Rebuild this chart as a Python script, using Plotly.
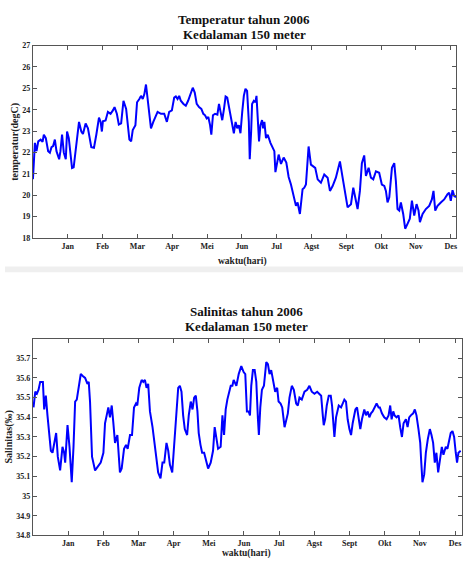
import plotly.graph_objects as go

# Daily temperature at 150 m depth, 2006 (day of year, deg C)
temp_day = [0, 1.7, 3.1, 4.6, 6.6, 8.3, 9.4, 11.1, 13.1, 14.6, 16, 17.4, 18.9, 20.3, 22.6, 23.7,
            25.1, 26.6, 28.3, 29.4, 30.9, 32.6, 33.7, 35.1, 36, 37.4, 39.7, 41.7, 43.1, 45.4, 47.4,
            50.3, 52.6, 54.6, 56.9, 58.3, 59.4, 60.3, 62.6, 64.6, 66.9, 68.9, 70.3, 72.3, 74, 76,
            78, 80.3, 81.7, 83.1, 84.6, 86, 88.3, 89.7, 91.7, 93.1, 94.6, 96, 97.4, 98.9, 100.3,
            101.7, 103.7, 106, 107.4, 110.3, 113.1, 115.4, 117.4, 119.7, 121.7, 123.1, 124.6, 126,
            127.4, 129.7, 131.7, 133.7, 136, 137.7, 139.4, 141.1, 143.1, 145.1, 146.8, 148.3, 149.7,
            151.1, 152.6, 153.7, 155.1, 156.9, 158.9, 160.3, 161.7, 163.1, 164.6, 166, 167.4, 168.9,
            170.3, 171.7, 173.1, 174.6, 176, 177.4, 178.8, 180.3, 181.7, 183.1, 184.5, 186, 186.8,
            188, 188.8, 190.3, 191.7, 192.6, 193.7, 194.8, 196, 197.4, 198.3, 199.4, 200.8, 202.3,
            204.6, 206.6, 208, 208.9, 210.3, 211.7, 213.7, 216, 218.3, 220.3, 222.3, 225.2, 226.6,
            228, 230, 232.3, 233.8, 235.2, 237.5, 239.5, 241, 243.2, 245.3, 248.1, 251, 253.9,
            255.9, 258.2, 261, 262.5, 264.5, 266.8, 268.8, 271.1, 274, 276, 277.7, 279.7, 281.7,
            283.4, 285.4, 286.9, 289.2, 291.2, 293.2, 295.5, 298.3, 300.6, 302.7, 304.1, 305.5,
            307, 309.3, 311.3, 312.7, 314.1, 315.6, 317, 319, 320.7, 322.7, 324.7, 326.5, 328.5,
            330.5, 332.2, 333.4, 335.7, 338.5, 341.4, 343.7, 345.1, 346.6, 348.6, 351.4, 354.3,
            357.2, 358.6, 360, 361.5, 362.9, 364.5]
temp_val = [20.75, 22.45, 22.06, 22.52, 22.6, 22.5, 22.83, 22.67, 22.06, 21.99, 22.25, 22.3, 22.6,
            22.06, 21.68, 22.06, 22.83, 21.99, 21.68, 22.98, 22.67, 21.6, 21.27, 21.3, 21.68, 22.37,
            23.43, 22.98, 22.86, 23.36, 23.13, 22.25, 22.22, 22.83, 23.63, 23.43, 22.98, 23.46, 23.5,
            23.9, 23.81, 23.97, 24.12, 23.81, 23.31, 23.36, 24.42, 24.04, 23.43, 22.6, 22.52, 23.05,
            23.28, 24.35, 24.5, 24.65, 24.5, 24.73, 25.18, 24.42, 23.74, 23.13, 23.43, 23.74, 23.9,
            23.81, 23.81, 23.43, 23.9, 23.97, 24.57, 24.62, 24.5, 24.65, 24.42, 24.27, 24.19, 24.42,
            24.8, 25.03, 24.8, 24.27, 24.12, 24.04, 23.81, 23.74, 23.59, 23.66, 23.28, 22.83, 23.74,
            23.81, 23.77, 24.27, 23.89, 23.51, 24.04, 24.62, 24.57, 24.12, 23.74, 23.36, 22.9, 23.43,
            23.13, 23.28, 22.9, 23.89, 24.65, 24.98, 24.88, 23.43, 21.68, 22.98, 24.27, 24.42, 24.35,
            24.65, 23.74, 22.52, 23.28, 23.51, 23.13, 23.43, 22.67, 22.83, 22.45, 22.22, 22.06, 21.08,
            21.61, 21.9, 21.46, 21.76, 21.53, 20.85, 20.5, 19.74, 19.5, 19.66, 19.12, 20.28, 20.35,
            20.5, 22.28, 21.43, 21.35, 21.28, 20.74, 20.58, 20.97, 20.82, 20.2, 20.43, 20.82, 21.12,
            21.58, 20.82, 20.12, 19.43, 19.58, 20.35, 19.89, 19.35, 20.2, 21.5, 21.86, 20.9, 21.28,
            20.82, 20.74, 21.12, 21.05, 20.5, 20.43, 20.2, 19.66, 19.9, 21.28, 21.5, 20.66, 19.35,
            19.28, 19.66, 19.12, 18.43, 18.66, 18.9, 19.74, 19.05, 19.58, 19.28, 18.74, 19.12, 19.35,
            19.5, 19.8, 20.2, 19.28, 19.5, 19.66, 19.8, 20.05, 20.12, 19.74, 20.23, 19.97, 19.9]

# Daily salinity at 150 m depth, 2006 (day of year, per mil)
sal_day = [0.5, 2, 3.4, 4.8, 6.2, 8.5, 9.6, 11, 12.4, 13.9, 15.3, 16.7, 18.1, 19.8, 21.2, 23.2, 25.2,
           26.6, 27.5, 29.5, 31.2, 33.1, 34.6, 36, 37.4, 38.8, 40.8, 42.5, 44.5, 46.5, 47.6, 48.7,
           49.6, 50.4, 53, 55.8, 57.8, 60.1, 61.5, 62.9, 64.3, 65.7, 67.2, 68.6, 70, 72, 73.1, 74.2,
           75.7, 77.7, 79.4, 80.8, 82.8, 84.5, 86.2, 87.9, 89, 90.7, 92.7, 94.1, 95.5, 96.9, 98.3,
           99.8, 102, 104, 105.4, 106.8, 108.8, 110.5, 112, 113.9, 115.4, 116.8, 118.8, 120.2,
           121.6, 122.4, 123.9, 125.3, 126.7, 128.1, 129.5, 131.5, 132.9, 134.6, 136.1, 137.5,
           138.9, 140.3, 141.4, 142.9, 144.3, 146, 147.4, 149.4, 151.6, 153.6, 155, 156.5, 157.9,
           160.1, 161.6, 163, 164.4, 165.8, 167.2, 168.7, 170.1, 171.2, 173.5, 175.5, 177.7, 179.7,
           181.1, 182.5, 184, 185.1, 186.2, 187.6, 189.1, 190.5, 191.9, 192.7, 193.9, 195.3, 197,
           199, 200.4, 201.8, 203.2, 204.7, 206.6, 208.3, 209.5, 211.2, 212.6, 214.6, 216, 217.4,
           218.8, 220.8, 222.5, 224.5, 225.9, 227.3, 229.3, 231.6, 233.9, 235.8, 237.8, 240.1,
           242.4, 244.3, 245.8, 247.2, 248, 249.2, 250.6, 252.3, 254, 255.1, 256.3, 257.1, 258.5,
           260.8, 262.8, 264.2, 265.6, 267, 268.4, 269.9, 271.3, 272.7, 275, 276.4, 277.8, 279.2,
           280.6, 282.6, 284, 285.5, 286.9, 288.3, 289.7, 291.1, 293.1, 294.8, 295.9, 297.6, 299.6,
           301.6, 303.3, 304.7, 305.9, 307.3, 308.4, 310.1, 311.8, 313.2, 314.7, 316.1, 318.1,
           319.5, 320.9, 322.3, 324.3, 325.7, 327.1, 328.8, 330.3, 331.1, 332.2, 333.7, 335.1,
           336.8, 338.5, 339.9, 341.3, 342.7, 344.1, 345.6, 347.3, 348.7, 350.1, 352.1, 353.5,
           354.9, 356.3, 357.8, 359.2, 360.6, 361.7, 362.9, 364.8]
sal_val = [35.45, 35.53, 35.52, 35.54, 35.58, 35.58, 35.44, 35.51, 35.41, 35.32, 35.23, 35.22, 35.27,
           35.32, 35.2, 35.13, 35.25, 35.22, 35.17, 35.36, 35.25, 35.07, 35.25, 35.48, 35.49, 35.54,
           35.62, 35.61, 35.6, 35.57, 35.58, 35.48, 35.33, 35.2, 35.13, 35.15, 35.17, 35.22, 35.37,
           35.41, 35.45, 35.4, 35.46, 35.37, 35.27, 35.31, 35.2, 35.12, 35.14, 35.24, 35.26, 35.24,
           35.31, 35.31, 35.45, 35.47, 35.46, 35.55, 35.59, 35.58, 35.59, 35.55, 35.57, 35.43, 35.35,
           35.25, 35.2, 35.12, 35.09, 35.17, 35.17, 35.27, 35.23, 35.16, 35.12, 35.25, 35.35, 35.45,
           35.55, 35.56, 35.53, 35.41, 35.34, 35.31, 35.41, 35.48, 35.44, 35.5, 35.51, 35.43, 35.32,
           35.26, 35.22, 35.22, 35.18, 35.14, 35.17, 35.23, 35.35, 35.3, 35.24, 35.25, 35.41, 35.31,
           35.44, 35.49, 35.52, 35.56, 35.56, 35.59, 35.56, 35.62, 35.66, 35.63, 35.62, 35.43, 35.43,
           35.41, 35.56, 35.64, 35.64, 35.58, 35.39, 35.31, 35.45, 35.54, 35.56, 35.68, 35.67, 35.62,
           35.64, 35.58, 35.53, 35.55, 35.48, 35.47, 35.45, 35.35, 35.38, 35.42, 35.5, 35.56, 35.54,
           35.47, 35.46, 35.5, 35.49, 35.53, 35.54, 35.56, 35.53, 35.52, 35.53, 35.52, 35.51, 35.41,
           35.36, 35.39, 35.46, 35.51, 35.51, 35.46, 35.33, 35.3, 35.4, 35.46, 35.45, 35.47, 35.49,
           35.48, 35.39, 35.34, 35.31, 35.37, 35.44, 35.45, 35.4, 35.34, 35.39, 35.44, 35.41, 35.43,
           35.4, 35.42, 35.43, 35.45, 35.47, 35.45, 35.45, 35.42, 35.4, 35.39, 35.41, 35.46, 35.39,
           35.43, 35.41, 35.4, 35.41, 35.35, 35.3, 35.37, 35.39, 35.35, 35.4, 35.41, 35.42, 35.44,
           35.41, 35.34, 35.27, 35.18, 35.07, 35.11, 35.22, 35.29, 35.34, 35.31, 35.27, 35.17, 35.22,
           35.12, 35.2, 35.25, 35.21, 35.25, 35.24, 35.29, 35.32, 35.33, 35.3, 35.22, 35.17, 35.22,
           35.23]

month_ticks = [30, 60, 90, 120, 150, 180, 210, 240, 270, 300, 330, 360]
month_labels = ["Jan", "Feb", "Mar", "Apr", "Mei", "Jun", "Jul", "Agst", "Sept", "Okt", "Nov", "Des"]

temp_ticks = [18, 19, 20, 21, 22, 23, 24, 25, 26, 27]
sal_ticks = [34.8, 34.9, 35.0, 35.1, 35.2, 35.3, 35.4, 35.5, 35.6, 35.7]
sal_tick_text = ["34.8", "34.9", "35", "35.1", "35.2", "35.3", "35.4", "35.5", "35.6", "35.7"]

W, H = 464, 565
SERIF = "Liberation Serif"
LINE = dict(color="#0000ff", width=2)


def px(y):
    """Convert a pixel row (from top) into paper coordinates."""
    return 1 - y / H


fig = go.Figure()
fig.add_trace(go.Scatter(x=temp_day, y=temp_val, mode="lines", line=LINE,
                         xaxis="x", yaxis="y", showlegend=False))
fig.add_trace(go.Scatter(x=sal_day, y=sal_val, mode="lines", line=LINE,
                         xaxis="x2", yaxis="y2", showlegend=False))

tick_font = dict(family=SERIF, size=8, color="#222", weight="bold")
common_axis = dict(showline=True, linecolor="#555", linewidth=1, mirror="ticks",
                   ticks="inside", ticklen=4, tickcolor="#555", showgrid=False,
                   zeroline=False, tickfont=tick_font)

fig.update_layout(
    width=W, height=H,
    margin=dict(l=0, r=0, t=0, b=0),
    paper_bgcolor="white", plot_bgcolor="white",
    xaxis=dict(domain=[33 / W, 457 / W], range=[0, 364.5], anchor="y",
               tickvals=month_ticks, ticktext=month_labels, **common_axis),
    yaxis=dict(domain=[px(237.7), px(42.3)], range=[18, 27], anchor="x",
               tickvals=temp_ticks, **common_axis),
    xaxis2=dict(domain=[33 / W, 462.5 / W], range=[0, 365.5], anchor="y2",
                tickvals=month_ticks, ticktext=month_labels, **common_axis),
    yaxis2=dict(domain=[px(540), px(340)], range=[34.8, 35.8], anchor="x2",
                tickvals=sal_ticks, ticktext=sal_tick_text, **common_axis),
)

# Light separator band between the two panels
fig.add_shape(type="rect", xref="paper", yref="paper", x0=5 / W, x1=1,
              y0=px(272.7), y1=px(266.7), fillcolor="#efefef", line=dict(width=0),
              layer="below")

title_font = dict(family=SERIF, size=13, color="#111", weight="bold")
xlabel_font = dict(family=SERIF, size=9.5, color="#222", weight="bold")
ylabel_font = dict(family=SERIF, size=10, color="#222", weight="bold")

texts = [
    ("Temperatur tahun 2006", 245, 15.5, title_font, 0),
    ("Kedalaman 150 meter", 245, 31, title_font, 0),
    ("waktu(hari)", 243.3, 262, xlabel_font, 0),
    ("temperatur(degC)", 15, 140, ylabel_font, -90),
    ("Salinitas tahun 2006", 246.7, 312, title_font, 0),
    ("Kedalaman 150 meter", 246.7, 327.5, title_font, 0),
    ("waktu(hari)", 246.7, 558, xlabel_font, 0),
    ("Salinitas(‰)", 9.5, 440, ylabel_font, -90),
]
for text, x, y, font, angle in texts:
    fig.add_annotation(text=text, xref="paper", yref="paper", x=x / W, y=px(y),
                       xanchor="center", yanchor="middle", showarrow=False,
                       font=font, textangle=angle)

fig.write_html("out.html")
